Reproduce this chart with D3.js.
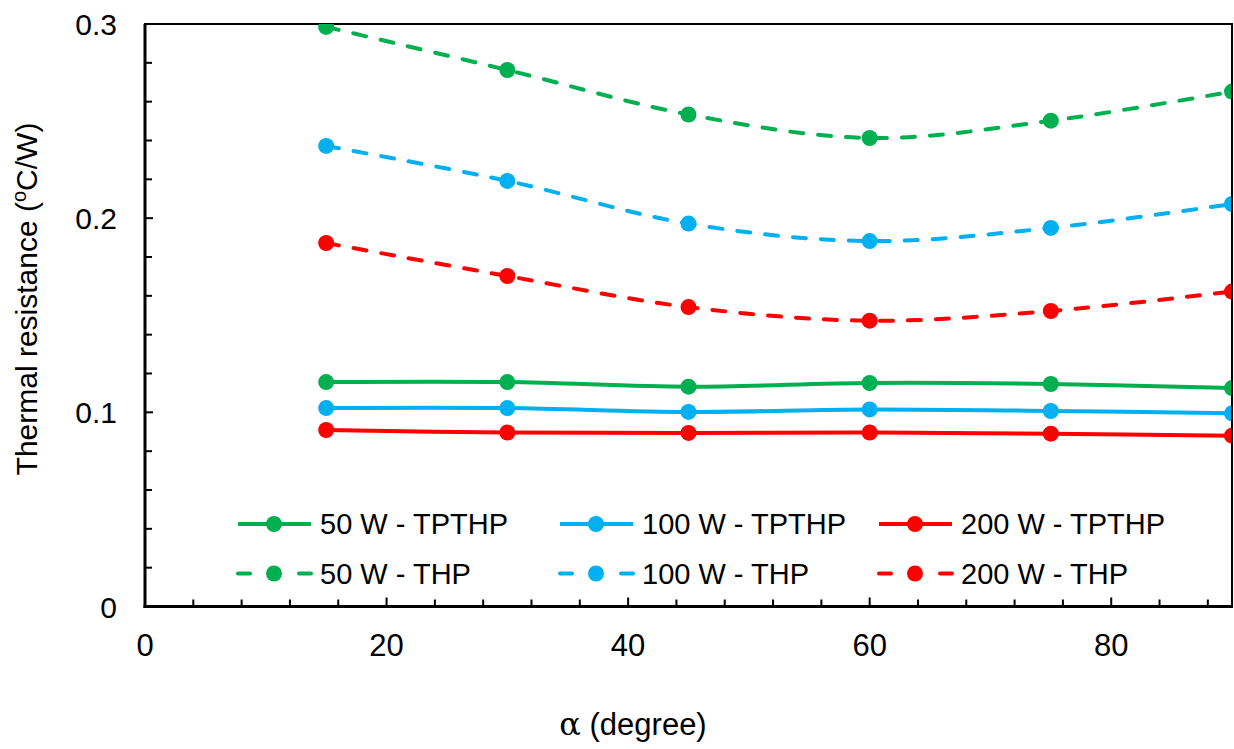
<!DOCTYPE html>
<html><head><meta charset="utf-8">
<script src="https://cdn.jsdelivr.net/npm/d3@7"></script>
<style>body{margin:0;background:#fff}svg{display:block;font-family:"Liberation Sans",Arial,sans-serif}</style>
</head><body><svg id="c" width="1234" height="749"></svg>
<script>
const angles = [15, 30, 45, 60, 75, 90];
const tpthp50 = [0.1156, 0.1156, 0.1132, 0.1151, 0.1146, 0.1125];
const tpthp100 = [0.1022, 0.1022, 0.1002, 0.1015, 0.1007, 0.0995];
const tpthp200 = [0.0909, 0.0896, 0.0894, 0.0896, 0.0890, 0.0880];
const thp50 = [0.2985, 0.2763, 0.2534, 0.2413, 0.2502, 0.2652];
const thp100 = [0.2372, 0.2192, 0.1972, 0.1882, 0.1950, 0.2073];
const thp200 = [0.1872, 0.1702, 0.1542, 0.1472, 0.1522, 0.1622];
const xTicks = [0, 20, 40, 60, 80];
const yTicks = [0, 0.1, 0.2, 0.3];
const seriesNames = ["50 W - TPTHP", "100 W - TPTHP", "200 W - TPTHP", "50 W - THP", "100 W - THP", "200 W - THP"];
const colors = ["#00B050", "#00B0F0", "#FF0000"];

const series = [
  {name: seriesNames[0], vals: tpthp50, color: colors[0], dashed: false},
  {name: seriesNames[1], vals: tpthp100, color: colors[1], dashed: false},
  {name: seriesNames[2], vals: tpthp200, color: colors[2], dashed: false},
  {name: seriesNames[3], vals: thp50, color: colors[0], dashed: true},
  {name: seriesNames[4], vals: thp100, color: colors[1], dashed: true},
  {name: seriesNames[5], vals: thp200, color: colors[2], dashed: true}
];

const L = 145, R = 1232, T = 24, B = 606.5;
const x = d3.scaleLinear().domain([0, 90]).range([L, R]);
const y = d3.scaleLinear().domain([0, 0.3]).range([B, T]);
const svg = d3.select("#c");

svg.append("defs").append("clipPath").attr("id", "clip")
  .append("rect").attr("x", L).attr("y", T).attr("width", R - L).attr("height", B - T);

// minor ticks
const xMinor = d3.range(0, 91, 4).filter(v => v % 20 !== 0);
const yMinor = d3.range(0, 0.3001, 0.02).filter(v => Math.abs(v*10 - Math.round(v*10)) > 1e-6);
const g = svg.append("g");
g.selectAll(".xm").data(xMinor).join("line")
  .attr("x1", d => x(d)).attr("x2", d => x(d)).attr("y1", B).attr("y2", B - 7)
  .attr("stroke", "#000").attr("stroke-width", 2);
g.selectAll(".xM").data(xTicks).join("line")
  .attr("x1", d => x(d)).attr("x2", d => x(d)).attr("y1", B).attr("y2", B - 9)
  .attr("stroke", "#000").attr("stroke-width", 2);
g.selectAll(".ym").data(yMinor).join("line")
  .attr("x1", L).attr("x2", L + 7).attr("y1", d => y(d)).attr("y2", d => y(d))
  .attr("stroke", "#000").attr("stroke-width", 2);
g.selectAll(".yM").data(yTicks).join("line")
  .attr("x1", L).attr("x2", L + 8).attr("y1", d => y(d)).attr("y2", d => y(d))
  .attr("stroke", "#000").attr("stroke-width", 2);

// frame
svg.append("rect").attr("x", L).attr("y", T).attr("width", R - L).attr("height", B - T)
  .attr("fill", "none").attr("stroke", "#000").attr("stroke-width", 2);
svg.append("line").attr("x1", L).attr("x2", L).attr("y1", T).attr("y2", B + 1.5).attr("stroke", "#000").attr("stroke-width", 3);
svg.append("line").attr("x1", L - 1.5).attr("x2", R + 1).attr("y1", B).attr("y2", B).attr("stroke", "#000").attr("stroke-width", 3);

// tick labels
svg.selectAll(".xl").data(xTicks).join("text")
  .attr("x", d => x(d)).attr("y", 656).attr("text-anchor", "middle")
  .attr("font-size", 31).text(d => d);
svg.selectAll(".yl").data(yTicks).join("text")
  .attr("x", 117).attr("y", d => y(d) + 11).attr("text-anchor", "end")
  .attr("font-size", 30).text(d => d === 0 ? "0" : d3.format(".1f")(d));

// axis titles
const yt = svg.append("text").attr("transform", `translate(37,299) rotate(-90)`)
  .attr("text-anchor", "middle").attr("font-size", 30);
yt.append("tspan").text("Thermal resistance (");
yt.append("tspan").attr("font-size", 20).attr("dy", -11).text("o");
yt.append("tspan").attr("dy", 11).text("C/W)");
const xt = svg.append("text").attr("x", 633).attr("y", 735).attr("text-anchor", "middle").attr("font-size", 31);
xt.append("tspan").attr("font-size", 32).attr("font-family", "DejaVu Serif, serif").text("α");
xt.append("tspan").text(" (degree)");

// series
const line = d3.line().x(d => x(d[0])).y(d => y(d[1])).curve(d3.curveCatmullRom.alpha(0));
const plot = svg.append("g").attr("clip-path", "url(#clip)");
series.forEach(s => {
  const pts = angles.map((a, i) => [a, s.vals[i]]);
  plot.append("path").attr("d", line(pts)).attr("fill", "none")
    .attr("stroke", s.color).attr("stroke-width", 4)
    .attr("stroke-linecap", s.dashed ? "round" : "butt")
    .attr("stroke-dasharray", s.dashed ? "13,15" : null);
  plot.selectAll(null).data(pts).join("circle")
    .attr("cx", d => x(d[0])).attr("cy", d => y(d[1])).attr("r", 8).attr("fill", s.color);
});
// redraw right border over clipped markers
svg.append("line").attr("x1", R).attr("x2", R).attr("y1", T).attr("y2", B).attr("stroke", "#000").attr("stroke-width", 2);

// legend
const colX = [236, 558, 877];
const rowY = [524, 573.5];
series.forEach((s, i) => {
  const cx = colX[i % 3], cy = rowY[Math.floor(i / 3)];
  const lg = svg.append("g");
  lg.append("line").attr("x1", cx + 2).attr("x2", cx + 75).attr("y1", cy).attr("y2", cy)
    .attr("stroke", s.color).attr("stroke-width", 4)
    .attr("stroke-linecap", s.dashed ? "round" : "butt")
    .attr("stroke-dasharray", s.dashed ? "12,49" : null);
  lg.append("circle").attr("cx", cx + 38).attr("cy", cy).attr("r", 8).attr("fill", s.color);
  lg.append("text").attr("x", cx + 84).attr("y", cy + 10.3).attr("font-size", 29).text(s.name);
});
</script></body></html>
